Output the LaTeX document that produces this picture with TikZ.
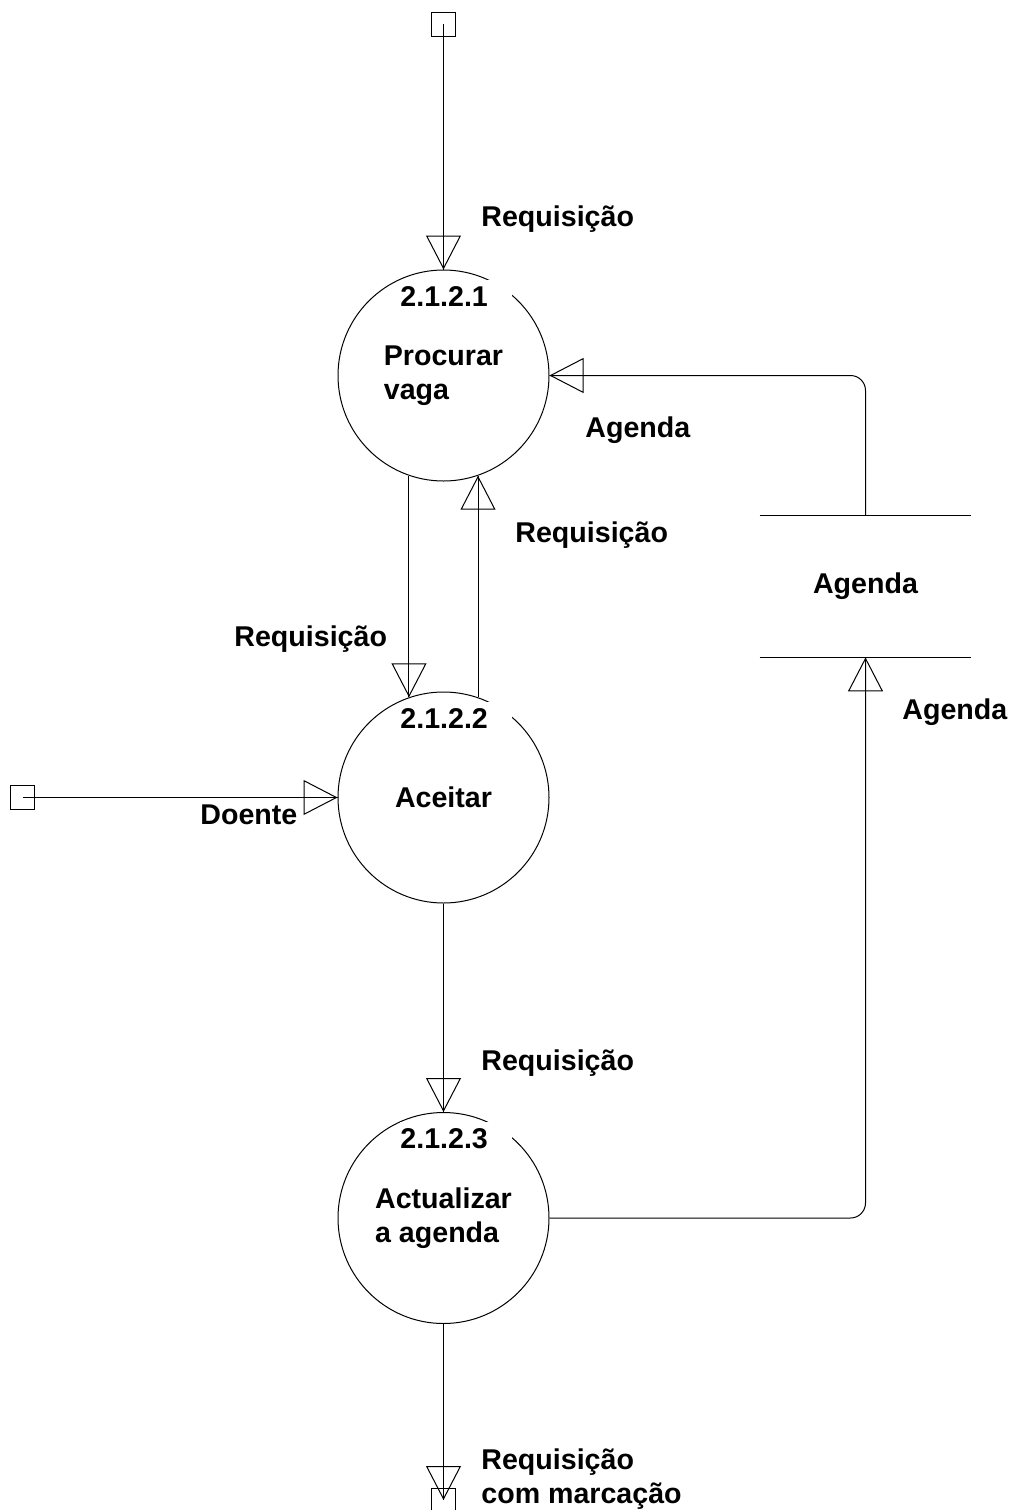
\documentclass[tikz,border=0pt]{standalone}
\usepackage{fontspec}
\setmainfont{Liberation Sans}
\usetikzlibrary{arrows.meta,decorations.markings}
\begin{document}
\begin{tikzpicture}[x=0.5pt,y=-0.5pt,
  every node/.style={font=\fontsize{14.3pt}{17pt}\selectfont\bfseries},
  thin line/.style={line width=0.5pt},
  proc/.style={circle,draw,line width=0.5pt,minimum size=105.5pt,inner sep=0pt,align=left},
  term/.style={rectangle,draw,line width=0.5pt,minimum size=12pt,inner sep=0pt},
  procid/.style={fill=white,inner sep=0pt,text height=13.25pt,text depth=4pt,
    text width=56pt,align=left,anchor=base west},
  flow/.style={line width=0.5pt,
    decoration={markings,mark=at position 1 with
      {\arrow{Triangle[open,length=17pt,width=17.5pt,line width=0.5pt]}}},
    postaction={decorate}},
  lbl/.style={anchor=base west,align=left,inner sep=0pt},
]
\clip (0,0) rectangle (1012,1510);
\fill[white] (0,0) rectangle (1012,1510);

% processes
\node[proc] (p1) at (443.5,375.5) {Procurar\\vaga};
\node[proc] (p2) at (443.5,797.5) {Aceitar};
\node[proc] (p3) at (443.5,1218) {Actualizar\\a agenda};

% process numbers
\node[procid] (n1) at (400,306) {2.1.2.1};
\node[procid] (n2) at (400,728) {2.1.2.2};
\node[procid] (n3) at (400,1148.5) {2.1.2.3};

% data store
\node[minimum width=105.5pt,minimum height=70.5pt,inner sep=0pt] (store) at (865.5,586.5) {Agenda};
\draw[thin line] (store.north west) -- (store.north east)
                 (store.south west) -- (store.south east);

% external entities
\node[term] (src) at (443.5,24) {};
\node[term] (pat) at (22.5,797.5) {};
\node[term] (dst) at (443.5,1500) {};

% flows
\draw[flow] (src.center) -- (p1.north);
\draw[flow] (p1.251) -- (p2.109);
\draw[flow] (p2.71) -- (p1.289);
\draw[flow] (pat.center) -- (p2.west);
\draw[flow] (p2.south) -- (p3.north);
\draw[flow] (p3.south) -- (dst.center);
\draw[flow,rounded corners=7.5pt] (store.north) |- (p1.east);
\draw[flow,rounded corners=7.5pt] (p3.east) -| (store.south);

% flow labels
\node[lbl] (l1) at (481,226) {Requisição};
\node[lbl] (l2) at (585,437) {Agenda};
\node[lbl] (l3) at (515,542) {Requisição};
\node[lbl] (l4) at (234,646) {Requisição};
\node[lbl] (l5) at (200,824) {Doente};
\node[lbl] (l6) at (902,719) {Agenda};
\node[lbl] (l7) at (481,1070) {Requisição};
\node[lbl] (l8) at (481,1503) {Requisição\\com marcação};
\end{tikzpicture}
\end{document}
